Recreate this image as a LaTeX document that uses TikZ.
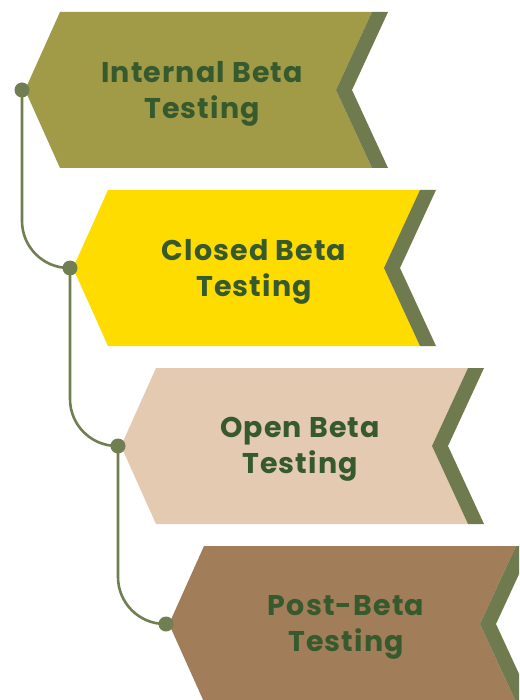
\documentclass[tikz,border=0pt]{standalone}
\usepackage{fontspec}
\setmainfont{Poppins}[LetterSpace=4]
\definecolor{olivefill}{HTML}{A19A47}
\definecolor{yellowfill}{HTML}{FFDC00}
\definecolor{beigefill}{HTML}{E4CAB0}
\definecolor{brownfill}{HTML}{A17E59}
\definecolor{stripegreen}{HTML}{6F7B4F}
\definecolor{textgreen}{HTML}{37592E}
\definecolor{linegreen}{HTML}{707E52}
\tikzset{
  lbl/.style={text=textgreen, font=\fontsize{28.5}{36}\selectfont\bfseries, align=center, inner sep=0pt},
  dot/.style={circle, fill=linegreen, minimum size=15pt, inner sep=0pt},
  link/.style={draw=linegreen, line width=2.6pt, rounded corners=47pt},
}
% one chevron step: #1 = x offset, #2 = y offset, #3 = fill colour
\newcommand{\stepchevron}[3]{%
  \begin{scope}[shift={(#1,#2)}]
    \fill[#3] (25,90) -- (60,12) -- (372,12) -- (336,90) -- (372,168) -- (60,168) -- cycle;
    \fill[stripegreen] (372,12) -- (388,12) -- (352,90) -- (388,168) -- (372,168) -- (336,90) -- cycle;
  \end{scope}}
\begin{document}
\begin{tikzpicture}[x=1pt, y=-1pt]
  \useasboundingbox (0,0) rectangle (519,700);
  \begin{scope}
    \clip (0,0) rectangle (519,700);
    \stepchevron{0}{0}{olivefill}
    \stepchevron{48}{178}{yellowfill}
    \stepchevron{96}{356}{beigefill}
    \stepchevron{144}{534}{brownfill}
  \end{scope}

  \coordinate (c1) at (22,90);
  \coordinate (c2) at (70,268);
  \coordinate (c3) at (118,446);
  \coordinate (c4) at (166,624);

  \draw[link] (c1) |- (c2);
  \draw[link] (c2) |- (c3);
  \draw[link] (c3) |- (c4);

  \node[dot] (p1) at (c1) {};
  \node[dot] (p2) at (c2) {};
  \node[dot] (p3) at (c3) {};
  \node[dot] (p4) at (c4) {};

  \node[lbl] (t1) at (202,93.5) {Internal Beta\\Testing};
  \node[lbl] (t2) at (254,271.5) {Closed Beta\\Testing};
  \node[lbl] (t3) at (300,449.5) {Open Beta\\Testing};
  \node[lbl] (t4) at (346,627.5) {Post-Beta\\Testing};
\end{tikzpicture}
\end{document}
